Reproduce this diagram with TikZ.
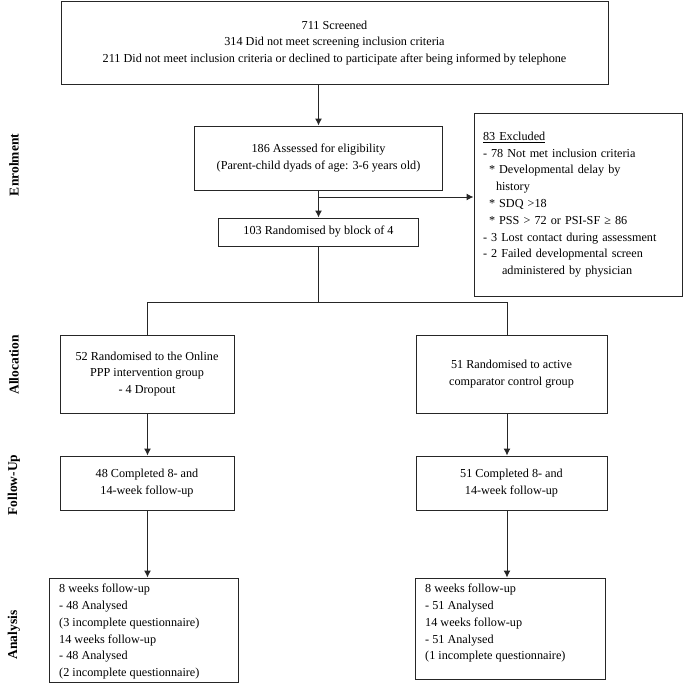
\documentclass[tikz,border=0pt]{standalone}
\usepackage{fontspec}
\setmainfont{Liberation Serif}
\usetikzlibrary{arrows.meta}
\begin{document}
\begin{tikzpicture}[x=1pt,y=-1pt,
  every node/.style={font=\fontsize{12.2}{16.8}\selectfont},
  box/.style={draw=black!85, line width=1pt, inner sep=0pt, align=center},
  txt/.style={inner sep=0pt, align=left, anchor=north west},
  lab/.style={rotate=90, inner sep=0pt, font=\fontsize{13.5}{16}\selectfont\bfseries},
  conn/.style={draw=black!85, line width=1pt},
  arr/.style={conn, -{Latex[length=7pt,width=7pt]}}]
\useasboundingbox (0,0) rectangle (685,685);
% boxes
\node[box, minimum width=547, minimum height=82] (top) at (334.5,43)
  {711 Screened\\314 Did not meet screening inclusion criteria\\211 Did not meet inclusion criteria or declined to participate after being informed by telephone};
\node[box, minimum width=248, minimum height=64] (assess) at (318.5,158)
  {186 Assessed for eligibility\\(Parent-child dyads of age: 3-6 years old)};
\node[box, minimum width=200, minimum height=28] (rand) at (318.5,232)
  {103 Randomised by block of 4};
\node[box, minimum width=208, minimum height=183, text width=190, align=left] (excl) at (578,204.5)
  {\underline{83 Excluded}\\
   - 78 Not met inclusion criteria\\
   \hspace*{6pt}* Developmental delay by\\
   \hspace*{13pt}history\\
   \hspace*{6pt}* SDQ >18\\
   \hspace*{6pt}* PSS > 72 or PSI-SF ≥ 86\\
   - 3 Lost contact during assessment\\
   - 2 Failed developmental screen\\
   \hspace*{19pt}administered by physician};
\node[box, minimum width=174, minimum height=78] (allocL) at (147,374)
  {52 Randomised to the Online\\PPP intervention group\\- 4 Dropout};
\node[box, minimum width=191, minimum height=78] (allocR) at (511.5,374)
  {51 Randomised to active\\comparator control group};
\node[box, minimum width=174, minimum height=54] (fuL) at (147,483)
  {48 Completed 8- and\\14-week follow-up};
\node[box, minimum width=191, minimum height=54] (fuR) at (511.5,483)
  {51 Completed 8- and\\14-week follow-up};
\node[box, minimum width=189, minimum height=104] (anL) at (143.5,630) {};
\node[box, minimum width=190, minimum height=101] (anR) at (510,628.5) {};
\node[txt] (anLt) at (59,584)
  {8 weeks follow-up\\- 48 Analysed\\(3 incomplete questionnaire)\\14 weeks follow-up\\- 48 Analysed\\(2 incomplete questionnaire)};
\node[txt] (anRt) at (425,584)
  {8 weeks follow-up\\- 51 Analysed\\14 weeks follow-up\\- 51 Analysed\\(1 incomplete questionnaire)};
% side labels
\node[lab] (labE) at (14,165) {Enrolment};
\node[lab] (labA) at (14,365) {Allocation};
\node[lab] (labF) at (14,485) {Follow-Up};
\node[lab] (labN) at (14,635) {Analysis};
% connectors
\coordinate (br) at (318.5,197);
\coordinate (split) at (318.5,302);
\coordinate (cL) at (147.5,302);
\coordinate (cR) at (507,302);
\draw[arr] (assess.north |- top.south) -- (assess.north);
\draw[arr] (assess.south) -- (rand.north);
\draw[arr] (br) -- (br -| excl.west);
\draw[conn] (rand.south) -- (split);
\draw[conn] (cL) -- (cR);
\draw[conn] (cL) -- (cL |- allocL.north);
\draw[conn] (cR) -- (cR |- allocR.north);
\draw[arr] (cL |- allocL.south) -- (cL |- fuL.north);
\draw[arr] (cR |- allocR.south) -- (cR |- fuR.north);
\draw[arr] (cL |- fuL.south) -- (cL |- anL.north);
\draw[arr] (cR |- fuR.south) -- (cR |- anR.north);
\end{tikzpicture}
\end{document}
